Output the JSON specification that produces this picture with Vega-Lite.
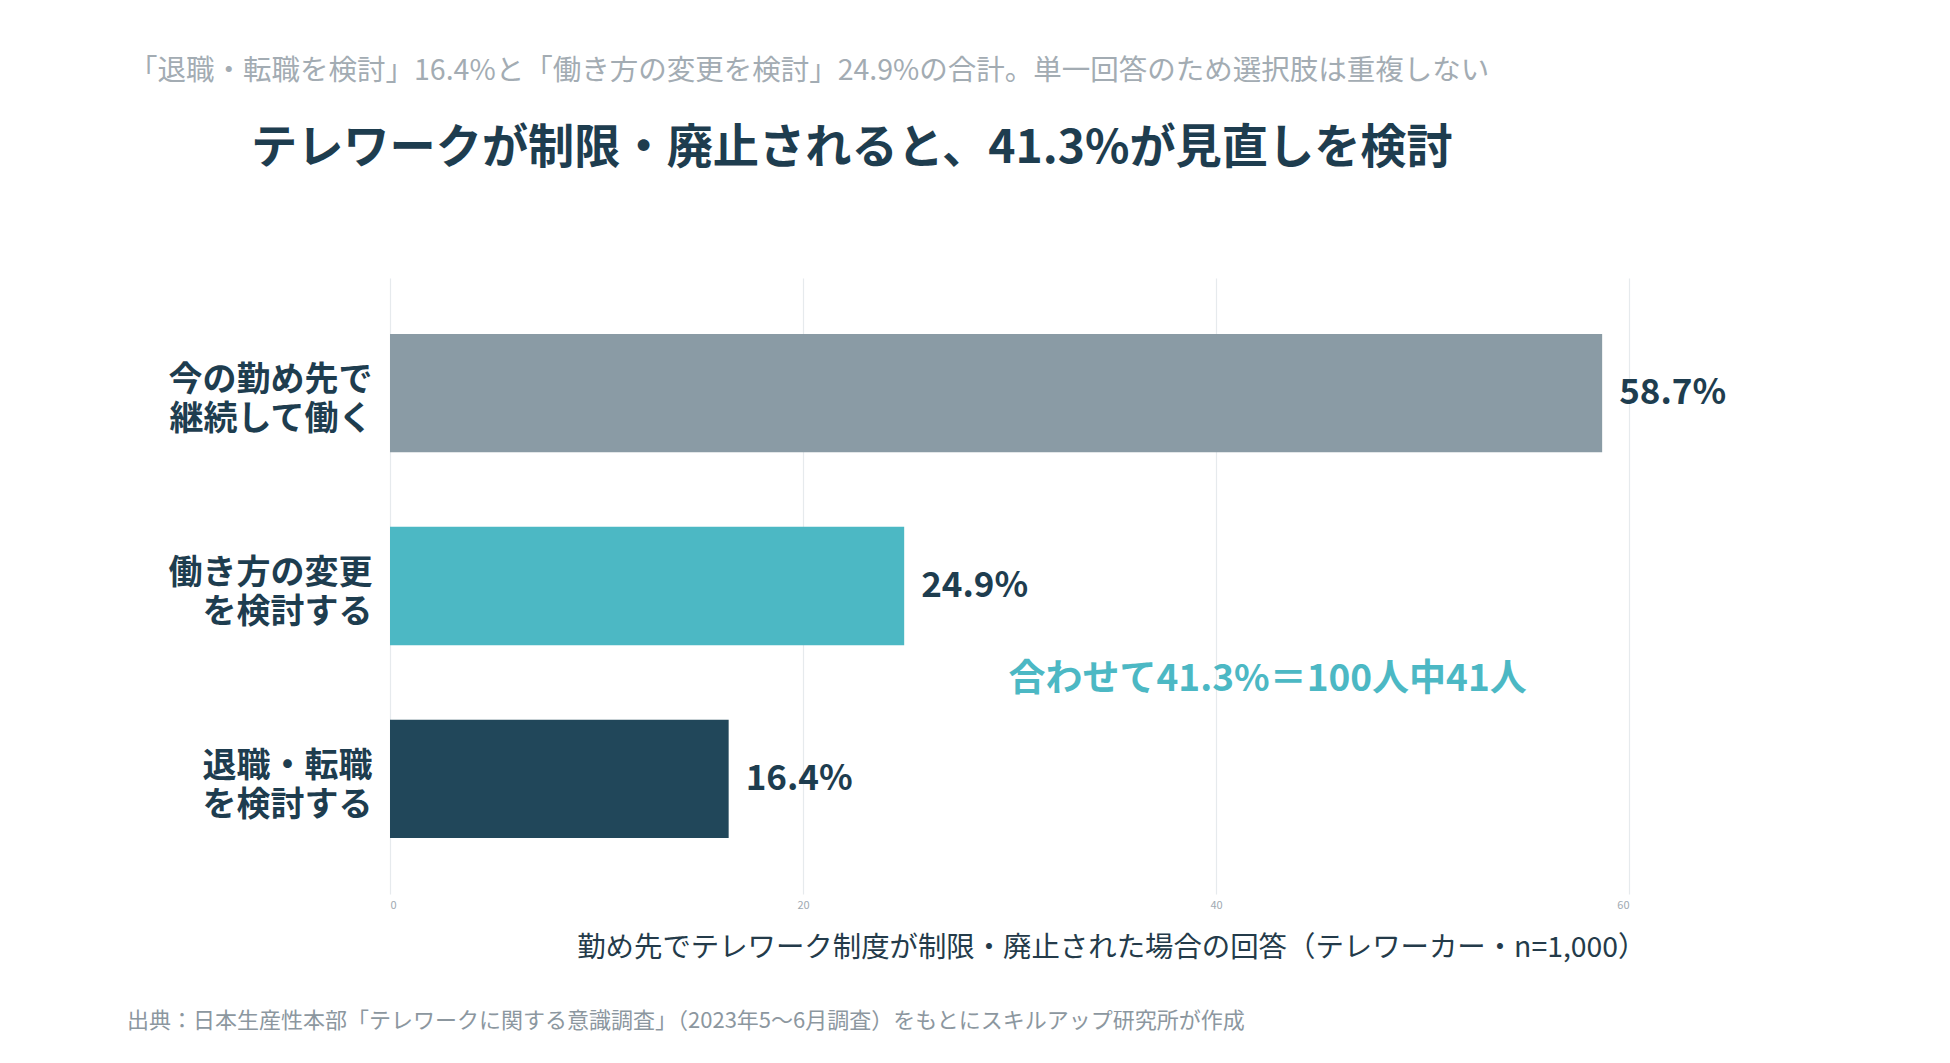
{
  "$schema": "https://vega.github.io/schema/vega-lite/v6.json",
  "autosize": {"type": "pad"},
  "padding": {"left": 127, "top": 57, "right": 10, "bottom": 10},
  "background": "white",
  "config": {
    "font": "Noto Sans CJK JP",
    "view": {"stroke": null}
  },
  "title": {
    "text": "「退職・転職を検討」16.4%と「働き方の変更を検討」24.9%の合計。単一回答のため選択肢は重複しない",
    "fontSize": 28.5,
    "fontWeight": "normal",
    "color": "#a3acb3",
    "anchor": "start",
    "dx": 2,
    "offset": 40
  },
  "vconcat": [
    {
      "title": {
        "text": "テレワークが制限・廃止されると、41.3%が見直しを検討",
        "fontSize": 46.2,
        "fontWeight": "bold",
        "color": "#1e3d4f",
        "anchor": "start",
        "dx": 124,
        "offset": 105
      },
      "vconcat": [
        {
          "width": 1239,
          "height": 616,
          "title": {
            "text": "出典：日本生産性本部「テレワークに関する意識調査」（2023年5〜6月調査）をもとにスキルアップ研究所が作成",
            "orient": "bottom",
            "anchor": "start",
            "frame": "group",
            "fontSize": 22,
            "fontWeight": "normal",
            "color": "#8c979f",
            "dx": -263,
            "offset": 50
          },
          "data": {
            "values": [
              {"category": "今の勤め先で\n継続して働く", "value": 58.7, "label": "58.7%"},
              {"category": "働き方の変更\nを検討する", "value": 24.9, "label": "24.9%"},
              {"category": "退職・転職\nを検討する", "value": 16.4, "label": "16.4%"}
            ]
          },
          "encoding": {
            "y": {
              "field": "category",
              "type": "nominal",
              "sort": null,
              "scale": {"paddingInner": 0.386, "paddingOuter": 0.29},
              "axis": {
                "title": null,
                "domain": false,
                "ticks": false,
                "labelExpr": "split(datum.label, '\\n')",
                "labelFontSize": 34,
                "labelFontWeight": "bold",
                "labelColor": "#1e3d4f",
                "labelLineHeight": 39,
                "labelOffset": -12,
                "labelPadding": 18,
                "labelLimit": 400
              }
            },
            "x": {
              "field": "value",
              "type": "quantitative",
              "scale": {"domain": [0, 60]},
              "axis": {
                "values": [0, 20, 40, 60],
                "title": "勤め先でテレワーク制度が制限・廃止された場合の回答（テレワーカー・n=1,000）",
                "titleAnchor": "end",
                "titleAlign": "right",
                "titleX": 1256,
                "titleFontSize": 28.4,
                "titleFontWeight": "normal",
                "titleColor": "#243b4a",
                "titlePadding": 24,
                "domain": false,
                "ticks": false,
                "labelFontSize": 11,
                "labelColor": "#a0aab2",
                "labelPadding": 5,
                "gridColor": "#e6eaed",
                "gridWidth": 1.2
              }
            }
          },
          "layer": [
            {
              "mark": {"type": "bar"},
              "encoding": {
                "color": {
                  "field": "category",
                  "type": "nominal",
                  "scale": {
                    "domain": ["今の勤め先で\n継続して働く", "働き方の変更\nを検討する", "退職・転職\nを検討する"],
                    "range": ["#8a9ba5", "#4cb8c4", "#21475a"]
                  },
                  "legend": null
                }
              }
            },
            {
              "mark": {"type": "text", "align": "left", "baseline": "middle", "dx": 17, "fontSize": 35, "fontWeight": "bold", "color": "#1e3d4f"},
              "encoding": {
                "text": {"field": "label"}
              }
            },
            {
              "data": {
                "values": [
                  {"category": "働き方の変更\nを検討する", "value": 42.5, "note": "合わせて41.3%＝100人中41人"}
                ]
              },
              "mark": {"type": "text", "align": "center", "baseline": "middle", "dy": 94, "fontSize": 37, "fontWeight": "bold", "color": "#4cb8c4"},
              "encoding": {
                "text": {"field": "note"}
              }
            }
          ]
        }
      ]
    }
  ]
}
